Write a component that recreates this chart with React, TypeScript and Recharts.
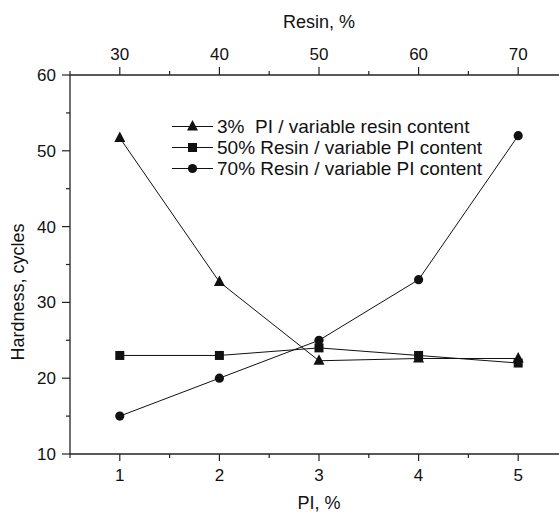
import { LineChart, Line, XAxis, YAxis, Legend } from "recharts";

// ─── data ────────────────────────────────────────────────────────────────────
const piValues    = [1, 2, 3, 4, 5];
const resinValues = [30, 40, 50, 60, 70];
const pi3Series   = [51.7, 32.7, 22.3, 22.6, 22.6];  // 3% PI / variable resin
const resin50     = [23, 23, 24, 23, 22];             // 50% resin / variable PI
const resin70     = [15, 20, 25, 33, 52];             // 70% resin / variable PI

const piTicks    = [0.5, 1, 1.5, 2, 2.5, 3, 3.5, 4, 4.5, 5, 5.5];
const resinTicks = [25, 30, 35, 40, 45, 50, 55, 60, 65, 70, 75];
const yTicks     = [10, 15, 20, 25, 30, 35, 40, 45, 50, 55, 60];

const legendItems = [
  { key: "pi3",     name: "3%  PI / variable resin content",  marker: "triangle" },
  { key: "resin50", name: "50% Resin / variable PI content",  marker: "square" },
  { key: "resin70", name: "70% Resin / variable PI content",  marker: "circle" },
];

const data = piValues.map((pi, i) => ({
  pi,
  resin:   resinValues[i],
  pi3:     pi3Series[i],
  resin50: resin50[i],
  resin70: resin70[i],
}));

const INK      = "#111";
const AXIS     = "#222";
const FONT     = "'Liberation Sans', Arial, Helvetica, sans-serif";
const TICK_FS  = 17;
const TITLE_FS = 18;

// ─── markers ─────────────────────────────────────────────────────────────────
function Marker({ type, cx, cy }: { type: string; cx: number; cy: number }) {
  if (type === "triangle")
    return <path d={`M${cx},${cy - 6.5} L${cx + 5.5},${cy + 4} L${cx - 5.5},${cy + 4} Z`} fill={INK} />;
  if (type === "square")
    return <rect x={cx - 4.5} y={cy - 4.5} width={9} height={9} fill={INK} />;
  return <circle cx={cx} cy={cy} r={4.6} fill={INK} />;
}

const dotFor = (type: string) => (p: any) =>
  p.cx == null ? <g key={p.key ?? p.index} /> : <Marker key={p.key ?? p.index} type={type} cx={p.cx} cy={p.cy} />;

// ─── ticks (major with label, minor without) ─────────────────────────────────
const BottomTick = ({ x, y, payload }: any) => {
  const major = Number.isInteger(payload.value);
  return (
    <g>
      <line x1={x} y1={y} x2={x} y2={y + (major ? 7 : 4)} stroke={AXIS} strokeWidth={1.2} />
      {major && (
        <text x={x} y={y + 27} textAnchor="middle" fontSize={TICK_FS} fill={INK}>{payload.value}</text>
      )}
    </g>
  );
};

const TopTick = ({ x, y, payload }: any) => {
  const major = payload.value % 10 === 0;
  return (
    <g>
      <line x1={x} y1={y} x2={x} y2={y - (major ? 8 : 4)} stroke={AXIS} strokeWidth={1.2} />
      {major && (
        <text x={x} y={y - 15} textAnchor="middle" fontSize={TICK_FS} fill={INK}>{payload.value}</text>
      )}
    </g>
  );
};

const LeftTick = ({ x, y, payload }: any) => {
  const major = payload.value % 10 === 0;
  return (
    <g>
      <line x1={x} y1={y} x2={x - (major ? 8 : 4)} y2={y} stroke={AXIS} strokeWidth={1.2} />
      {major && (
        <text x={x - 14} y={y + 6} textAnchor="end" fontSize={TICK_FS} fill={INK}>{payload.value}</text>
      )}
    </g>
  );
};

// ─── legend ──────────────────────────────────────────────────────────────────
const LegendBox = () => (
  <div style={{ fontFamily: FONT, fontSize: 19, color: INK, lineHeight: "21px" }}>
    {legendItems.map((it) => (
      <div key={it.key} style={{ display: "flex", alignItems: "center", height: 21 }}>
        <svg width={46} height={21} style={{ flex: "none" }}>
          <line x1={1} y1={10.5} x2={42} y2={10.5} stroke={INK} strokeWidth={1} />
          <Marker type={it.marker} cx={21.5} cy={10.5} />
        </svg>
        <span style={{ whiteSpace: "pre" }}>{it.name}</span>
      </div>
    ))}
  </div>
);

const YTitle = () => (
  <text x={18} y={292} transform="rotate(-90, 18, 292)" textAnchor="middle"
    dominantBaseline="central" fontSize={TITLE_FS} fill={INK}>
    Hardness, cycles
  </text>
);

export default function App() {
  return (
    <div style={{
      position: "absolute", left: 0, top: 0, width: 559, height: 512,
      overflow: "hidden", background: "#fff", fontFamily: FONT,
    }}>
      <LineChart width={580} height={512} data={data}
        margin={{ top: 0, right: 12, bottom: 0, left: 0 }}>
        <XAxis xAxisId="pi" dataKey="pi" type="number" orientation="bottom"
          domain={[0.5, 5.5]} ticks={piTicks} interval={0} height={58}
          tickSize={0} tickMargin={0} tickLine={false} tick={<BottomTick />}
          axisLine={{ stroke: AXIS, strokeWidth: 1.3 }} allowDataOverflow
          label={{ value: "PI, %", position: "insideBottom", offset: 3, fontSize: TITLE_FS, fill: INK }} />
        <XAxis xAxisId="resin" dataKey="resin" type="number" orientation="top"
          domain={[25, 75]} ticks={resinTicks} interval={0} height={75}
          tickSize={0} tickMargin={0} tickLine={false} tick={<TopTick />}
          axisLine={{ stroke: AXIS, strokeWidth: 1.3 }} allowDataOverflow
          label={{ value: "Resin, %", position: "insideTop", offset: 15, fontSize: TITLE_FS, fill: INK }} />
        <YAxis type="number" domain={[10, 60]} ticks={yTicks} interval={0} width={70}
          tickSize={0} tickMargin={0} tickLine={false} tick={<LeftTick />}
          axisLine={{ stroke: AXIS, strokeWidth: 1.3 }} allowDataOverflow
          label={{ content: () => <YTitle /> }} />
        <Legend layout="vertical" align="center" verticalAlign="middle"
          content={() => <LegendBox />}
          wrapperStyle={{ left: 171, top: 116, width: 360, height: 66 }} />
        <Line xAxisId="resin" dataKey="pi3" name={legendItems[0].name}
          stroke={INK} strokeWidth={1} dot={dotFor("triangle")} isAnimationActive={false} />
        <Line xAxisId="pi" dataKey="resin50" name={legendItems[1].name}
          stroke={INK} strokeWidth={1} dot={dotFor("square")} isAnimationActive={false} />
        <Line xAxisId="pi" dataKey="resin70" name={legendItems[2].name}
          stroke={INK} strokeWidth={1} dot={dotFor("circle")} isAnimationActive={false} />
      </LineChart>
    </div>
  );
}
